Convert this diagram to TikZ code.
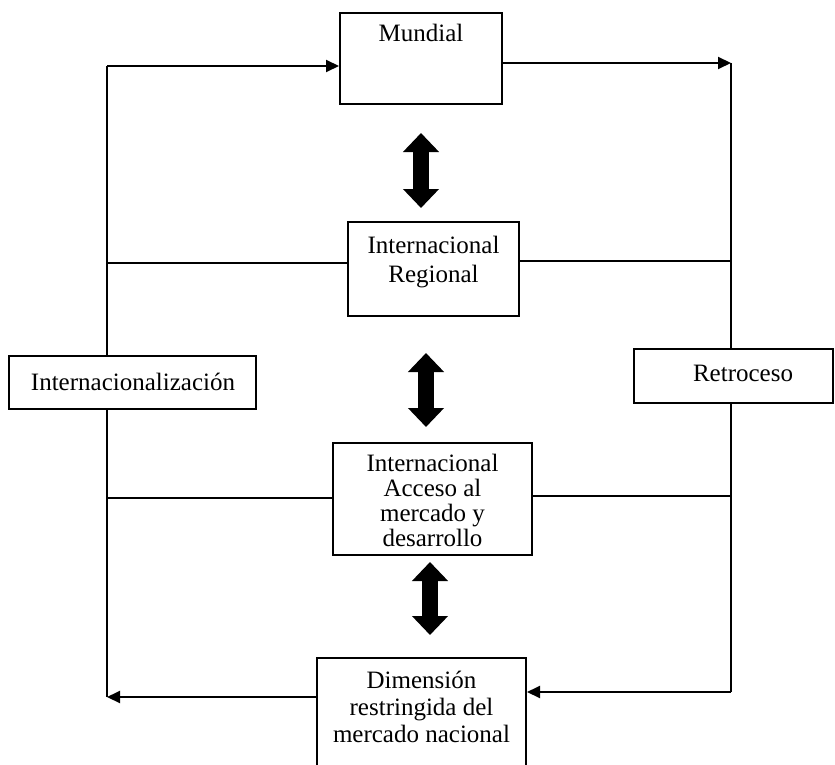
\documentclass[tikz,border=0pt]{standalone}
\usepackage{fontspec}
\setmainfont{Liberation Serif}
\usetikzlibrary{arrows.meta}
\begin{document}
\begin{tikzpicture}[x=1pt,y=-1pt,
 box/.style={draw,line width=2pt,fill=white,inner sep=0pt},
 txt/.style={align=center,font=\fontsize{25}{27}\selectfont,inner sep=0pt},
 conn/.style={line width=2pt},
 arr/.style={conn,-{Triangle[length=13pt 0 0,width=12pt 0 0]}},
 dbl/.style={line width=16pt,{Triangle[length=19pt 0 0,width=35pt 0 0]}-{Triangle[length=19pt 0 0,width=35pt 0 0]}}]
\useasboundingbox (0,0) rectangle (835,765);
\clip (0,0) rectangle (835,765);
% boxes
\node[box,minimum width=162pt,minimum height=91pt] (mund) at (421,58.5) {};
\node[txt] (mundT) at (421,33) {Mundial};
\node[box,minimum width=171pt,minimum height=94pt] (reg) at (433.5,269) {};
\node[txt] (regT) at (433.5,262.5) {Internacional\\[2pt]Regional};
\node[box,minimum width=199pt,minimum height=112pt] (acc) at (432.5,499) {};
\node[txt] (accT) at (432.5,500) {Internacional\\[-2pt]Acceso al\\[-2pt]mercado y\\[-2pt]desarrollo};
\node[box,minimum width=209pt,minimum height=117pt] (dim) at (421.5,716.5) {};
\node[txt] (dimT) at (421.5,707) {Dimensión\\restringida del\\mercado nacional};
\node[box,minimum width=247pt,minimum height=53pt] (intz) at (132.5,382.5) {};
\node[txt] (intzT) at (133,382) {Internacionalización};
\node[box,minimum width=199pt,minimum height=54pt] (retr) at (733.5,376) {};
\node[txt] (retrT) at (743,373) {Retroceso};
% corner coordinates
\coordinate (cTL) at (107,66);
\coordinate (cBL) at (107,697);
\coordinate (cTR) at (731,63);
\coordinate (cBR) at (731,692);
\coordinate (rl) at (107,263);
\coordinate (rr) at (731,261);
\coordinate (al) at (107,498);
\coordinate (ar) at (731,496);
% outer loop
\draw[arr] (cTL) -- (cTL -| mund.west);
\draw[arr] (cTR -| mund.east) -- (cTR);
\draw[conn] (cTR) -- (cTR |- retr.north);
\draw[conn] (cTR |- retr.south) -- (cBR);
\draw[arr] (cBR) -- (cBR -| dim.east);
\draw[arr] (cBL -| dim.west) -- (cBL);
\draw[conn] (cBL) -- (cBL |- intz.south);
\draw[conn] (cTL |- intz.north) -- (cTL);
% side links
\draw[conn] (rl) -- (rl -| reg.west);
\draw[conn] (rr -| reg.east) -- (rr);
\draw[conn] (al) -- (al -| acc.west);
\draw[conn] (ar -| acc.east) -- (ar);
% double arrows
\coordinate (d1a) at (421,133);
\coordinate (d1b) at (421,208);
\coordinate (d2a) at (426,353);
\coordinate (d2b) at (426,427);
\coordinate (d3a) at (430,562);
\coordinate (d3b) at (430,635);
\draw[dbl] (d1a) -- (d1b);
\draw[dbl] (d2a) -- (d2b);
\draw[dbl] (d3a) -- (d3b);
\end{tikzpicture}
\end{document}
